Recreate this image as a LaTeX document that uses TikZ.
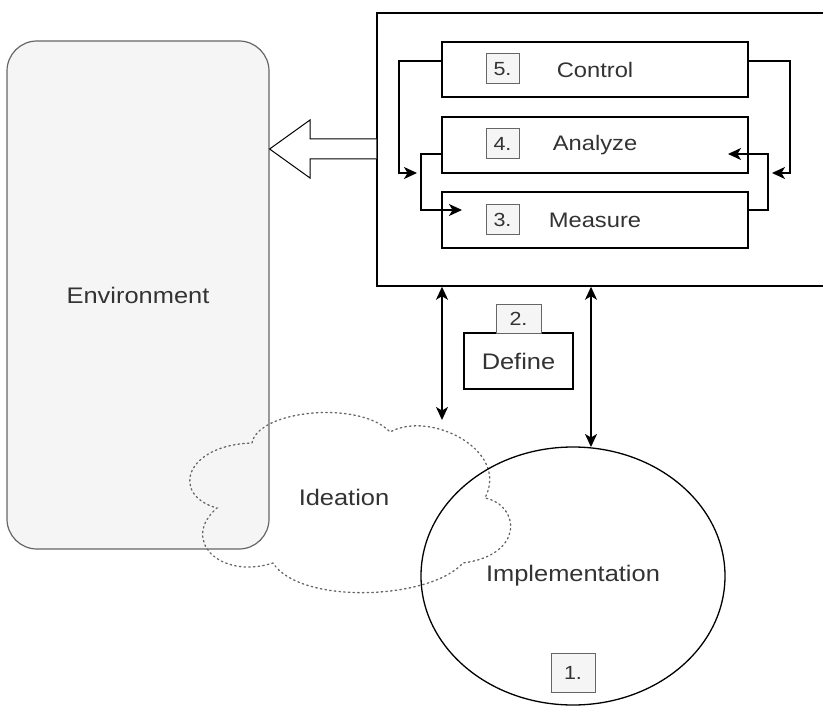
\documentclass[tikz,border=0pt]{standalone}
\usepackage{fontspec}
\setmainfont[FakeStretch=1.13]{Liberation Sans}
\usetikzlibrary{arrows.meta,shapes.geometric}
\definecolor{txt}{HTML}{333333}
\definecolor{lgray}{HTML}{F5F5F5}
\definecolor{mgray}{HTML}{666666}
\begin{document}
\begin{tikzpicture}[x=1pt,y=-1pt,
  box/.style={draw=black,line width=1.3pt,fill=white,inner sep=0pt,text=txt,font=\fontsize{21}{24}\selectfont},
  numbox/.style={draw=mgray,fill=lgray,line width=1pt,inner sep=0pt,minimum width=33pt,minimum height=30pt,text=txt,font=\fontsize{19}{21}\selectfont},
  biglbl/.style={text=txt,font=\fontsize{22.5}{26}\selectfont},
  arr/.style={line width=1.4pt,-{Stealth[length=13pt,width=12pt,inset=3.5pt]}},
  darr/.style={line width=1.4pt,{Stealth[length=13pt,width=12pt,inset=3.5pt]}-{Stealth[length=13pt,width=12pt,inset=3.5pt]}}]
\useasboundingbox (0,0) rectangle (823,706);
\fill[white] (0,0) rectangle (823,706);

% Environment
\node[draw=mgray,fill=lgray,rounded corners=30pt,line width=1.2pt,minimum width=262pt,minimum height=508pt,inner sep=0pt,biglbl] (env) at (138,295) {Environment};

% big frame
\node[draw=black,line width=1.5pt,minimum width=447pt,minimum height=273pt,inner sep=0pt] (big) at (600.5,149.5) {};

% hollow arrow
\draw[line width=1pt,fill=white] (big.west |- 0,139) -- (310,139) -- (310,120) -- (env.east |- 0,149) -- (310,178) -- (310,159) -- (big.west |- 0,159);

% inner steps
\node[box,minimum width=306pt,minimum height=55pt] (ctrl) at (595,69.5) {Control};
\node[box,minimum width=306pt,minimum height=56pt] (anl) at (595,145) {Analyze};
\node[box,minimum width=306pt,minimum height=56pt] (meas) at (595,220) {Measure};
\node[numbox] (n5) at (502.5,69) {5.};
\node[numbox] (n4) at (502.5,144) {4.};
\node[numbox] (n3) at (502.5,219.5) {3.};

% loop connectors
\coordinate (t1) at (417,173);
\coordinate (t2) at (462,210);
\coordinate (t3) at (772,173);
\coordinate (t4) at (728,154);
\draw[arr] (ctrl.west |- 0,61) -- (399,61) -- (399,173) -- (t1);
\draw[arr] (anl.west |- 0,154) -- (421,154) -- (421,210) -- (t2);
\draw[arr] (ctrl.east |- 0,61) -- (790,61) -- (790,173) -- (t3);
\draw[arr] (meas.east |- 0,210) -- (768,210) -- (768,154) -- (t4);

% Define
\node[box,line width=1.2pt,minimum width=109pt,minimum height=56pt,font=\fontsize{22.5}{26}\selectfont] (def) at (518.5,361) {Define};
\node[numbox,minimum width=45pt,minimum height=29pt] (n2) at (518.5,318.5) {2.};

% cloud
\draw[mgray,line width=1.3pt,dash pattern=on 1.5pt off 3.2pt,line cap=round]
  (252,443) .. controls (258,410) and (360,400) .. (390,432)
  .. controls (430,410) and (510,450) .. (485,498)
  .. controls (520,505) and (525,555) .. (463,563)
  .. controls (430,600) and (300,605) .. (273,563)
  .. controls (220,580) and (180,540) .. (217,508)
  .. controls (170,495) and (185,445) .. (252,443);
\node[biglbl] (idea) at (344,497) {Ideation};

% Implementation
\node[ellipse,draw=black,line width=1.3pt,minimum width=304pt,minimum height=258pt,inner sep=0pt,biglbl] (impl) at (573,576) {Implementation};
\node[numbox,minimum width=44pt,minimum height=39pt] (n1) at (573,672.5) {1.};

% double arrows
\coordinate (d1) at (442,420);
\coordinate (d2) at (591,447);
\draw[darr] (big.south -| d1) -- (d1);
\draw[darr] (big.south -| d2) -- (d2);
\end{tikzpicture}
\end{document}
